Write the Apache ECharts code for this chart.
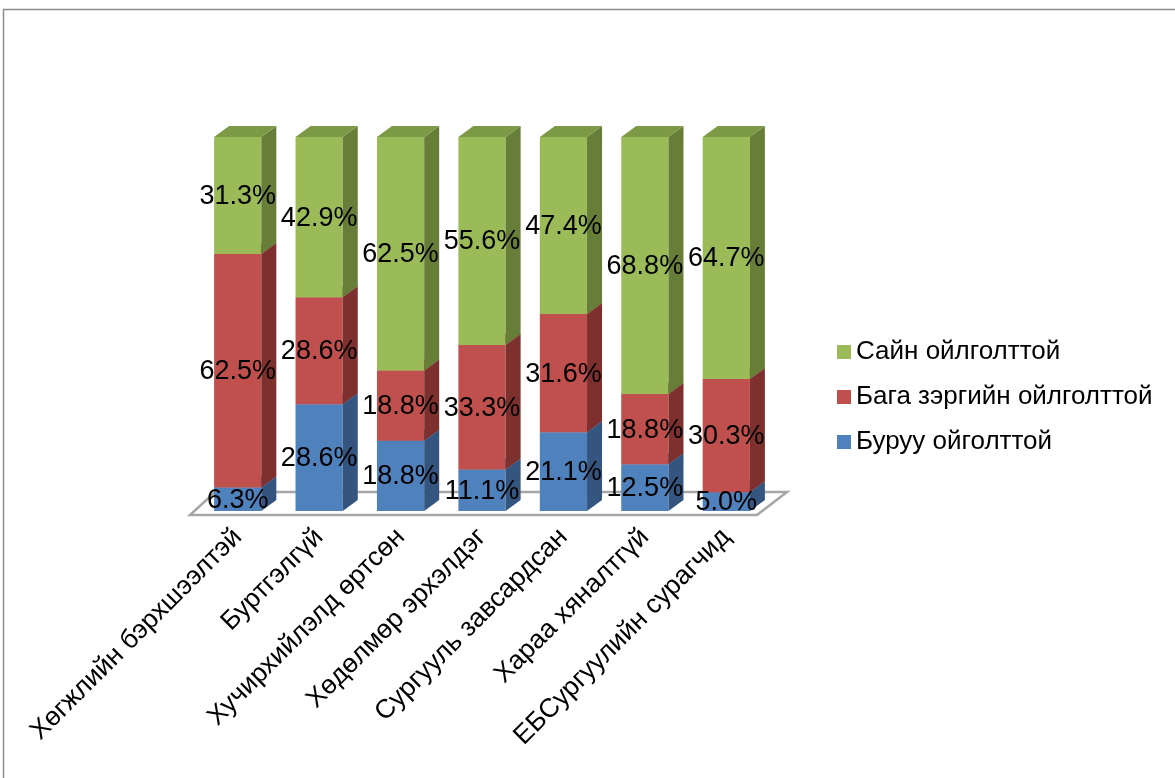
<!DOCTYPE html>
<html><head><meta charset="utf-8">
<script src="https://cdn.jsdelivr.net/npm/echarts@6/dist/echarts.min.js"></script>
<style>html,body{margin:0;padding:0;background:#fff}#c{width:1175px;height:778px}</style>
</head><body><div id="c"></div>
<script>
const categories = ["Хөгжлийн бэрхшээлтэй","Буртгэлгүй","Хучирхийлэлд өртсөн","Хөдөлмөр эрхэлдэг","Сургууль завсардсан","Хараа хяналтгүй","ЕБСургуулийн сурагчид"];
const seriesNames = ["Буруу ойголттой","Бага зэргийн ойлголттой","Сайн ойлголттой"];
const wrongVals = [6.3, 28.6, 18.8, 11.1, 21.1, 12.5, 5.0];
const partialVals = [62.5, 28.6, 18.8, 33.3, 31.6, 18.8, 30.3];
const goodVals = [31.3, 42.9, 62.5, 55.6, 47.4, 68.8, 64.7];
const valueSets = [wrongVals, partialVals, goodVals];

const frontColors = ["#4F81BD","#C0504D","#9BBB59"];
const sideColors = ["#34557F","#7E302E","#677E38"];
const topColors = ["#3F6A9E","#9C3F3C","#7C9A45"];
const DX = 15, DY = 11;
const FONT = '"Liberation Sans", Arial, sans-serif';

function norm(k, i){
  const s = wrongVals[i] + partialVals[i] + goodVals[i];
  let base = 0;
  for (let j = 0; j < k; j++) base += valueSets[j][i] / s * 100;
  return [base, base + valueSets[k][i] / s * 100];
}

function makeBarSeries(k){
  return {
    type: 'custom', name: seriesNames[k], z: 2 + k,
    itemStyle: { color: frontColors[k] },
    data: categories.map((c, i) => [i, valueSets[k][i]]),
    renderItem: function(params, api){
      const i = api.value(0);
      const [b, t] = norm(k, i);
      const cx = api.coord([i, 0])[0];
      const w = api.size([1, 0])[0] * 0.58;
      const y0 = api.coord([i, b])[1], y1 = api.coord([i, t])[1];
      const L = cx - w/2, R = cx + w/2;
      return { type: 'group', children: [
        { type: 'rect', shape: { x: L, y: y1, width: w, height: y0 - y1 }, style: { fill: frontColors[k] } },
        { type: 'polygon', shape: { points: [[R,y0],[R+DX,y0-DY],[R+DX,y1-DY],[R,y1]] }, style: { fill: sideColors[k] } },
        { type: 'polygon', shape: { points: [[L,y1],[R,y1],[R+DX,y1-DY],[L+DX,y1-DY]] }, style: { fill: topColors[k] } }
      ]};
    }
  };
}

const labelSeries = {
  type: 'custom', name: 'labels', z: 20, silent: true,
  data: categories.map((c, i) => [i]),
  renderItem: function(params, api){
    const i = api.value(0);
    const cx = api.coord([i, 0])[0];
    const children = [];
    for (let k = 0; k < 3; k++){
      const [b, t] = norm(k, i);
      const ym = (api.coord([i, b])[1] + api.coord([i, t])[1]) / 2;
      children.push({ type: 'text', style: { text: valueSets[k][i].toFixed(1) + '%', x: cx, y: ym + 1,
        align: 'center', verticalAlign: 'middle', fill: '#000', font: '27px ' + FONT } });
    }
    return { type: 'group', children };
  }
};

const floorSeries = {
  type: 'custom', name: 'floor', z: 1, silent: true,
  data: [[0]],
  renderItem: function(params, api){
    const band = api.size([1, 0])[0];
    const x0 = api.coord([0, 0])[0] - band/2;
    const x1 = api.coord([categories.length - 1, 0])[0] + band/2;
    const y0 = api.coord([0, 0])[1];
    return { type: 'polygon', shape: { points: [[x0-7,y0+4],[x1-10,y0+4],[x1+20,y0-19],[x0+18,y0-19]] },
      style: { fill: '#fff', stroke: '#A6A6A6', lineWidth: 2.5 } };
  }
};

const chart = echarts.init(document.getElementById('c'));
chart.setOption({
  animation: false,
  graphic: [{ type: 'rect', shape: { x: 3.5, y: 9.5, width: 1200, height: 800 }, style: { fill: 'none', stroke: '#8C8C8C', lineWidth: 1.5 }, z: -1 }],
  grid: { left: 197, top: 137, right: 408, bottom: 267 },
  legend: {
    orient: 'vertical', left: 837, top: 338, padding: 0, itemWidth: 14, itemHeight: 14, itemGap: 17,
    icon: 'rect', data: [seriesNames[2], seriesNames[1], seriesNames[0]],
    textStyle: { fontSize: 26, fontFamily: FONT, color: '#000', lineHeight: 28, padding: [0,0,0,0] }
  },
  xAxis: { type: 'category', data: categories, axisLine: { show: false }, axisTick: { show: false },
    axisLabel: { rotate: 45, interval: 0, margin: 22, fontSize: 26.5, fontFamily: FONT, color: '#000' } },
  yAxis: { type: 'value', min: 0, max: 100, show: false },
  series: [floorSeries, makeBarSeries(0), makeBarSeries(1), makeBarSeries(2), labelSeries]
});
</script></body></html>
